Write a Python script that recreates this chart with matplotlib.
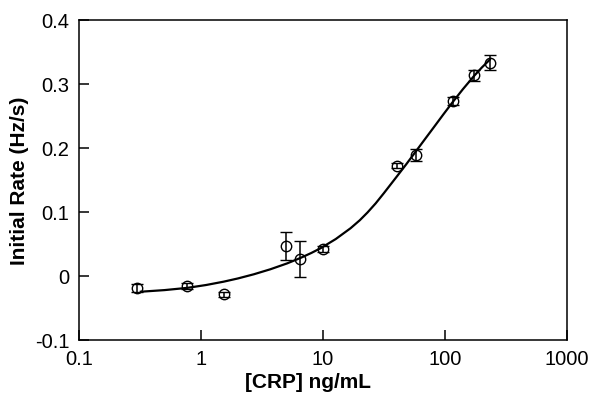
import numpy as np
import matplotlib.pyplot as plt

plt.rcParams['font.family'] = ['Liberation Sans', 'DejaVu Sans']

# measured points
crp = [0.3, 0.77, 1.55, 5.0, 6.5, 10.0, 40.0, 57.5, 117, 173, 234]
rate = [-0.019, -0.016, -0.029, 0.046, 0.026, 0.042, 0.172, 0.189, 0.273, 0.313, 0.333]
rate_err = [0.006, 0.004, 0.004, 0.022, 0.028, 0.005, 0.004, 0.009, 0.006, 0.009, 0.012]

# fitted curve
fit_x = [0.32, 0.5, 0.77, 1.1, 1.53, 2.0, 2.7, 3.7, 5.08, 6.53, 8.0, 9.53, 12.7, 16.8, 20.0,
         23.1, 27.0, 31.6, 40.6, 48.0, 57.5, 68.0, 81.3, 97.0, 115, 140, 173, 200, 233]
fit_y = [-0.025, -0.0225, -0.019, -0.0145, -0.0093, -0.0043, 0.0022, 0.0101, 0.0193, 0.0278,
         0.0355, 0.0429, 0.0573, 0.0742, 0.0867, 0.0987, 0.1131, 0.1293, 0.156, 0.174,
         0.194, 0.2127, 0.2325, 0.2522, 0.2708, 0.2914, 0.3122, 0.3252, 0.3377]

xticks = [0.1, 1, 10, 100, 1000]
xticklabels = ['0.1', '1', '10', '100', '1000']
yticks = [-0.1, 0, 0.1, 0.2, 0.3, 0.4]
yticklabels = ['-0.1', '0', '0.1', '0.2', '0.3', '0.4']

fig = plt.figure(figsize=(6, 4.1), dpi=100)
ax = fig.add_axes([0.132, 0.169, 0.813, 0.7805])

ax.plot(fit_x, fit_y, color='black', lw=1.6)
ax.errorbar(crp, rate, yerr=rate_err, fmt='o', mfc='none', mec='black', mew=1.0,
            ms=7.5, ecolor='black', elinewidth=1.1, capsize=4, capthick=1.1)

ax.set_xscale('log')
ax.set_xlim(0.1, 1000)
ax.set_ylim(-0.1, 0.4)
ax.set_xticks(xticks)
ax.set_xticklabels(xticklabels)
ax.set_yticks(yticks)
ax.set_yticklabels(yticklabels)
ax.minorticks_off()
ax.tick_params(direction='in', length=7, width=1.1, labelsize=14.5)
ax.tick_params(axis='x', pad=7)
ax.tick_params(axis='y', pad=7)
for s in ax.spines.values():
    s.set_linewidth(1.1)

ax.set_xlabel('[CRP] ng/mL', fontsize=15, fontweight='bold', labelpad=0)
ax.xaxis.set_label_coords(0.47, -0.1)
ax.set_ylabel('Initial Rate (Hz/s)', fontsize=15, fontweight='bold', labelpad=4)

fig.savefig('out.png', dpi=100)
